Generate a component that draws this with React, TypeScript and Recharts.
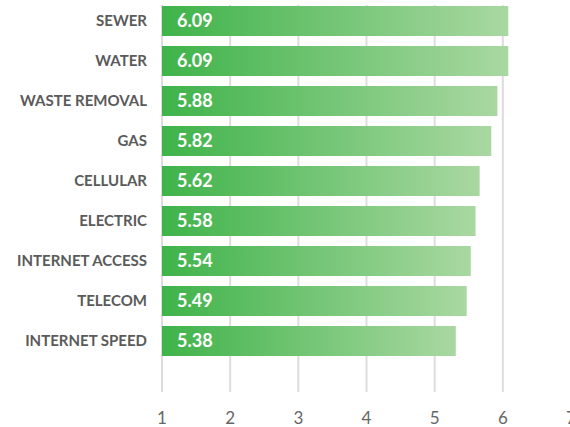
import { Bar, BarChart, CartesianGrid, LabelList, XAxis, YAxis } from "recharts";

const categories = [
  "SEWER",
  "WATER",
  "WASTE REMOVAL",
  "GAS",
  "CELLULAR",
  "ELECTRIC",
  "INTERNET ACCESS",
  "TELECOM",
  "INTERNET SPEED",
];
// bar lengths as drawn in the picture
const barValues = [6.08, 6.08, 5.92, 5.83, 5.66, 5.6, 5.53, 5.47, 5.31];
// the printed score on each bar
const scoreLabels = ["6.09", "6.09", "5.88", "5.82", "5.62", "5.58", "5.54", "5.49", "5.38"];
const xTicks = [1, 2, 3, 4, 5, 6, 7];

const data = categories.map((name, i) => ({
  name,
  value: barValues[i],
  label: scoreLabels[i],
}));

export default function App() {
  return (
    <div
      style={{
        position: "absolute",
        left: 0,
        top: 0,
        width: 570,
        height: 427,
        overflow: "hidden",
        fontFamily: "Lato, sans-serif",
      }}
    >
      <BarChart
        width={590}
        height={427}
        data={data}
        layout="vertical"
        margin={{ top: 5, right: 19, bottom: 0, left: 0 }}
        barSize={30}
      >
        <defs>
          <linearGradient id="barFill" x1="0" y1="0" x2="1" y2="0">
            <stop offset="0%" stopColor="#3fb34a" />
            <stop offset="100%" stopColor="#a9d8a1" />
          </linearGradient>
        </defs>
        <CartesianGrid horizontal={false} stroke="#dddddd" strokeWidth={2} />
        <XAxis
          type="number"
          domain={[1, 7]}
          ticks={xTicks}
          axisLine={false}
          tickLine={false}
          tickMargin={14}
          height={35}
          tick={{ fill: "#666666", fontSize: 17 }}
        />
        <YAxis
          type="category"
          dataKey="name"
          width={162}
          axisLine={false}
          tickLine={false}
          tickMargin={9}
          padding={{ top: -4, bottom: 31 }}
          tick={{ fill: "#5a5a5a", fontSize: 15, fontWeight: 700 }}
        />
        <Bar dataKey="value" fill="url(#barFill)" isAnimationActive={false}>
          <LabelList
            dataKey="label"
            position="insideLeft"
            offset={15}
            fill="#ffffff"
            fontSize={18}
            fontWeight={700}
          />
        </Bar>
      </BarChart>
    </div>
  );
}
